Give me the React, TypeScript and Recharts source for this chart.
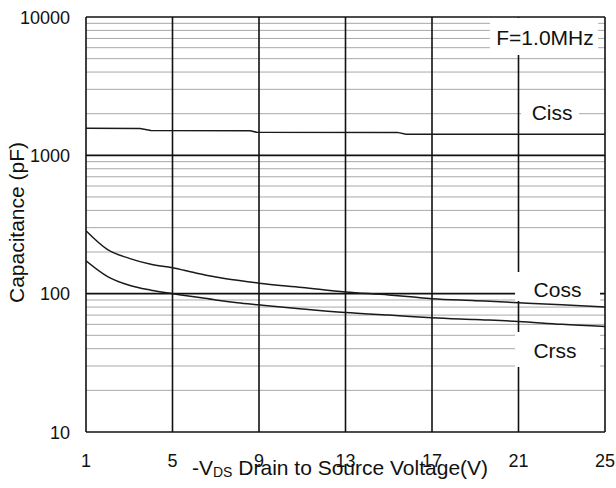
import React from 'react';
import { LineChart, Line, XAxis, YAxis, CartesianGrid, ReferenceArea } from 'recharts';

// Drain-source voltage (V) sample points for Coss / Crss
const voltages = [1, 2, 3, 4, 5, 6, 7, 8, 9, 11, 13, 15, 16, 17, 19, 21, 23, 25];
const cossValues = [285, 208, 180, 163, 154, 142, 132, 125, 119, 111, 103, 98, 95, 92, 89, 86, 83, 80];
const crssValues = [173, 133, 115, 106, 100, 95, 90, 86, 83, 77.5, 73, 70, 68.5, 67, 65, 63, 60, 58];

// Ciss has its own (step-like) sample points
const cissVoltages = [1, 3.5, 4, 8.6, 8.9, 15.4, 15.8, 25];
const cissValues = [1568, 1560, 1510, 1505, 1467, 1465, 1420, 1420];

const xTicks = [1, 5, 9, 13, 17, 21, 25];
const yTicks = [10, 100, 1000, 10000];
const majorGrid = [10, 100, 1000, 10000];
const minorGrid = [
  20, 30, 40, 50, 60, 70, 80, 90,
  200, 300, 400, 500, 600, 700, 800, 900,
  2000, 3000, 4000, 5000, 6000, 7000, 8000, 9000,
];

// Annotation boxes (data coordinates) with their texts
const boxTexts = ['F=1.0MHz', 'Ciss', 'Coss', 'Crss'];
const boxX1 = [19.68, 21.12, 20.84, 20.84];
const boxX2 = [24.68, 23.8, 24.77, 24.77];
const boxYLow = [5313, 1630, 88.5, 29.5];
const boxYHigh = [9835, 2512, 143.4, 52.8];
const boxDx = [1, 2, 0, -2.5];
const boxDy = [8.5, 7, 10.5, 8.5];

const FONT = '"Liberation Sans", Arial, Helvetica, sans-serif';

const toRows = (xs: number[], ys: number[]) => xs.map((v, i) => ({ v, c: ys[i] }));
const cissData = toRows(cissVoltages, cissValues);
const cossData = toRows(voltages, cossValues);
const crssData = toRows(voltages, crssValues);

const XTick = (props: any) => {
  const { x, y, payload } = props;
  return (
    <text x={x} y={y + 35} textAnchor="middle" fontSize={18} fill="#111" fontFamily={FONT}>
      {payload.value}
    </text>
  );
};

const YTick = (props: any) => {
  const { x, y, payload } = props;
  return (
    <text x={x - 16} y={y + 6.5} textAnchor="end" fontSize={18} fill="#111" fontFamily={FONT}>
      {payload.value}
    </text>
  );
};

const xLabel = (props: any) => {
  const vb = props.viewBox || { x: 86, y: 432 };
  return (
    <text x={vb.x + 106} y={vb.y + 43} fontSize={21} fill="#111" fontFamily={FONT} textAnchor="start">
      <tspan>-V</tspan>
      <tspan fontSize={14} dy={2}>DS</tspan>
      <tspan dy={-2}> Drain to Source Voltage(V)</tspan>
    </text>
  );
};

const yLabel = (props: any) => {
  const x = 24;
  const y = 222.5;
  return (
    <text
      x={x}
      y={y}
      fontSize={21}
      fill="#111"
      fontFamily={FONT}
      textAnchor="middle"
      transform={`rotate(-90, ${x}, ${y})`}
    >
      Capacitance (pF)
    </text>
  );
};

const boxLabel = (i: number) => (props: any) => {
  const vb = props.viewBox || { x: 0, y: 0, width: 0, height: 0 };
  return (
    <text
      x={vb.x + vb.width / 2 + boxDx[i]}
      y={vb.y + vb.height / 2 + boxDy[i]}
      textAnchor="middle"
      fontSize={21}
      fill="#111"
      fontFamily={FONT}
    >
      {boxTexts[i]}
    </text>
  );
};

export default function App() {
  return (
    <div style={{ position: 'absolute', left: 0, top: 0, width: 616, height: 488, background: '#fff' }}>
      <LineChart width={616} height={488} margin={{ top: 17, right: 11, bottom: 0, left: 0 }}>
        <CartesianGrid
          vertical={false}
          horizontalValues={minorGrid}
          stroke="#a8a8a8"
          strokeWidth={1}
        />
        <CartesianGrid
          horizontalValues={majorGrid}
          verticalValues={xTicks}
          stroke="#111"
          strokeWidth={1.6}
        />
        <XAxis
          type="number"
          dataKey="v"
          domain={[1, 25]}
          ticks={xTicks}
          interval={0}
          allowDataOverflow
          axisLine={false}
          tickLine={false}
          tickSize={0}
          tickMargin={0}
          height={56}
          tick={<XTick />}
          label={{ content: xLabel }}
        />
        <YAxis
          type="number"
          scale="log"
          domain={[10, 10000]}
          ticks={yTicks}
          interval={0}
          allowDataOverflow
          axisLine={false}
          tickLine={false}
          tickSize={0}
          tickMargin={0}
          width={86}
          tick={<YTick />}
          label={{ content: yLabel }}
        />
        {boxTexts.map((t, i) => (
          <ReferenceArea
            key={t}
            x1={boxX1[i]}
            x2={boxX2[i]}
            y1={boxYLow[i]}
            y2={boxYHigh[i]}
            fill="#fff"
            fillOpacity={1}
            stroke="none"
            ifOverflow="visible"
            label={{ content: boxLabel(i) }}
          />
        ))}
        <Line data={cissData} dataKey="c" type="linear" stroke="#1a1a1a" strokeWidth={1.5} dot={false} isAnimationActive={false} />
        <Line data={cossData} dataKey="c" type="monotone" stroke="#1a1a1a" strokeWidth={1.5} dot={false} isAnimationActive={false} />
        <Line data={crssData} dataKey="c" type="monotone" stroke="#1a1a1a" strokeWidth={1.5} dot={false} isAnimationActive={false} />
      </LineChart>
    </div>
  );
}
